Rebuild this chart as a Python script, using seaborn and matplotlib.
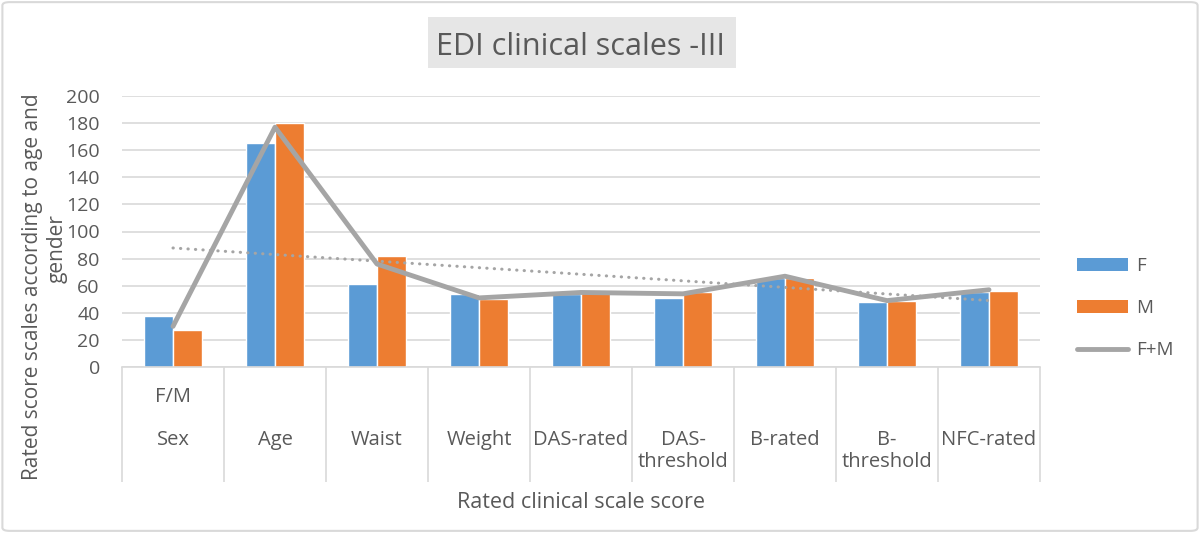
import numpy as np
import pandas as pd
import matplotlib.pyplot as plt
import seaborn as sns
from matplotlib.patches import FancyBboxPatch, Patch, Rectangle
from matplotlib.lines import Line2D
from matplotlib.transforms import blended_transform_factory

# ========== DATA ==========
categories = ["Sex", "Age", "Waist", "Weight", "DAS-rated", "DAS-\nthreshold",
              "B-rated", "B-\nthreshold", "NFC-rated"]
upper_labels = ["F/M", "", "", "", "", "", "", "", ""]
female = [38, 165, 61, 54, 54, 51, 66, 48, 55]
male = [27, 180, 82, 50, 55, 55, 66, 49, 56]
combined = [30, 177, 76, 51, 55, 54, 67, 49, 57]
y_ticks = list(range(0, 201, 20))

# ========== STYLE ==========
BLUE = "#5b9bd5"
ORANGE = "#ed7d31"
GRAY = "#a5a5a5"
TXT = "#595959"
GRID = "#d9d9d9"

sns.set_style("white")
plt.rcParams["font.family"] = ["Open Sans", "DejaVu Sans"]
plt.rcParams["text.color"] = TXT

df = pd.DataFrame({
    "scale": categories * 2,
    "score": female + male,
    "group": ["F"] * len(female) + ["M"] * len(male),
})

fig = plt.figure(figsize=(12, 5.33), dpi=100)
ax = fig.add_axes([122 / 1200, 1 - 367 / 533, 918 / 1200, 271 / 533])

sns.barplot(data=df, x="scale", y="score", hue="group", order=categories,
            palette={"F": BLUE, "M": ORANGE}, width=0.57, gap=0, saturation=1,
            legend=False, ax=ax)

# linear trend of F+M and the F+M line
xpos = np.arange(len(categories))
coef = np.polyfit(xpos, combined, 1)
ax.plot(xpos, np.polyval(coef, xpos), color=GRAY, lw=2.2,
        linestyle=(0, (0.1, 2.35)), dash_capstyle="round", zorder=4)
sns.lineplot(x=xpos, y=combined, color=GRAY, lw=3.5, ax=ax, zorder=5)

ax.set_xlim(-0.5, len(categories) - 0.5)
ax.set_ylim(0, 200)
ax.set_yticks(y_ticks)
ax.tick_params(axis="y", length=0, pad=16, labelsize=14, labelcolor=TXT)
ax.set_xticks([])
ax.set_xlabel("")
ax.set_ylabel("")
ax.yaxis.grid(True, color=GRID, lw=1.2)
ax.set_axisbelow(True)
for s in ["top", "right", "left"]:
    ax.spines[s].set_visible(False)
ax.spines["bottom"].set_color(GRID)
ax.spines["bottom"].set_linewidth(1.2)

# multi-level category axis
tr = blended_transform_factory(ax.transData, ax.transAxes)
ax.vlines(np.arange(len(categories) + 1) - 0.5, -0.424, 0, transform=tr,
          color=GRID, lw=1.2, clip_on=False)
for i, (lab, up) in enumerate(zip(categories, upper_labels)):
    ax.text(i, -0.232, lab, transform=tr, ha="center", va="top",
            fontsize=14.5, color=TXT, linespacing=1.15)
    if up:
        ax.text(i, -0.11, up, transform=tr, ha="center", va="center",
                fontsize=14.5, color=TXT)

fig.text(581 / 1200, 1 - 503 / 533, "Rated clinical scale score",
         ha="center", va="center", fontsize=15.5, color=TXT)
fig.text(33 / 1200, 1 - 287 / 533, "Rated score scales according to age and",
         rotation=90, ha="center", va="center", fontsize=15, color=TXT)
fig.text(57 / 1200, 1 - 249 / 533, "gender",
         rotation=90, ha="center", va="center", fontsize=15, color=TXT)

# title with shaded box
fig.patches.append(Rectangle((428 / 1200, 1 - 68 / 533), 308 / 1200, 51 / 533,
                             transform=fig.transFigure, facecolor="#e6e6e6",
                             edgecolor="none", zorder=0))
fig.text(581 / 1200, 1 - 55 / 533, "EDI clinical scales -III", ha="center",
         va="baseline", fontsize=22, color=TXT)

# legend
handles = [Patch(facecolor=BLUE, edgecolor="none"),
           Patch(facecolor=ORANGE, edgecolor="none"),
           Line2D([0], [0], color=GRAY, lw=3.5, solid_capstyle="round")]
fig.legend(handles, ["F", "M", "F+M"], loc="center left",
           bbox_to_anchor=(1077 / 1200, 1 - 308 / 533), frameon=False,
           fontsize=13.5, handlelength=2.7, handleheight=0.7,
           labelspacing=1.3, handletextpad=0.45, borderpad=0, borderaxespad=0)
for t in fig.legends[0].get_texts():
    t.set_color(TXT)

# outer chart border
fig.patches.append(FancyBboxPatch((0.002, 0.004), 0.996, 0.992,
                                  boxstyle="round,pad=0,rounding_size=0.006",
                                  transform=fig.transFigure, facecolor="none",
                                  edgecolor=GRID, lw=1.5))

fig.savefig("out.png", dpi=100, facecolor="white")
